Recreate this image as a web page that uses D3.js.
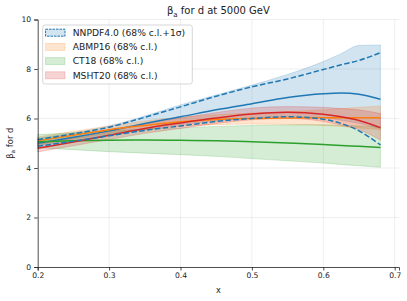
<!DOCTYPE html>
<html><head><meta charset="utf-8">
<script src="https://cdn.jsdelivr.net/npm/d3@7"></script>
<style>
body{margin:0;background:#fff;}
svg{display:block;font-family:"DejaVu Sans",sans-serif;}
</style></head>
<body>
<svg id="c" width="407" height="301"></svg>
<script>
const xs = [0.2, 0.25, 0.3, 0.35, 0.4, 0.45, 0.5, 0.55, 0.6, 0.625, 0.65, 0.68];

const nnpdfCentral = [5.0, 5.24, 5.5, 5.8, 6.07, 6.35, 6.6, 6.85, 7.0, 7.03, 6.98, 6.78];
const nnpdfPlus1s  = [5.15, 5.38, 5.65, 6.05, 6.47, 6.9, 7.28, 7.6, 7.98, 8.17, 8.35, 8.66];
const nnpdfMinus1s = [4.88, 5.08, 5.3, 5.52, 5.7, 5.88, 6.0, 6.07, 5.97, 5.8, 5.5, 4.93];
const nnpdfUpper   = [5.2, 5.42, 5.7, 6.1, 6.55, 6.95, 7.35, 7.78, 8.3, 8.62, 8.95, 8.97];
const nnpdfLower   = [4.9, 5.1, 5.33, 5.55, 5.75, 5.92, 6.02, 6.08, 6.03, 5.93, 5.8, 5.6];

const abmpCentral = [5.1, 5.32, 5.55, 5.72, 5.87, 5.96, 6.0, 6.02, 6.03, 6.03, 6.03, 6.03];
const abmpUpper   = [5.25, 5.48, 5.7, 5.9, 6.05, 6.15, 6.22, 6.28, 6.35, 6.4, 6.45, 6.5];
const abmpLower   = [4.95, 5.17, 5.4, 5.55, 5.68, 5.75, 5.78, 5.76, 5.72, 5.68, 5.62, 5.55];

const ct18Central = [5.06, 5.1, 5.12, 5.13, 5.12, 5.1, 5.06, 5.01, 4.95, 4.91, 4.88, 4.83];
const ct18Upper   = [5.35, 5.42, 5.5, 5.57, 5.62, 5.68, 5.72, 5.74, 5.75, 5.73, 5.7, 5.65];
const ct18Lower   = [4.82, 4.74, 4.66, 4.6, 4.54, 4.47, 4.38, 4.29, 4.2, 4.14, 4.09, 4.03];

const mshtCentral = [4.8, 5.05, 5.32, 5.6, 5.82, 6.02, 6.18, 6.25, 6.17, 6.07, 5.92, 5.63];
const mshtUpper   = [4.95, 5.22, 5.5, 5.78, 6.02, 6.24, 6.42, 6.48, 6.45, 6.4, 6.35, 6.2];
const mshtLower   = [4.65, 4.9, 5.15, 5.4, 5.6, 5.8, 5.95, 6.0, 5.88, 5.73, 5.55, 5.13];

const xTicks = [0.2, 0.3, 0.4, 0.5, 0.6, 0.7];
const yTicks = [0, 2, 4, 6, 8, 10];
const legendLabels = ["NNPDF4.0 (68% c.l.+1σ)", "ABMP16 (68% c.l.)", "CT18 (68% c.l.)", "MSHT20 (68% c.l.)"];
const colors = ["#1f77b4", "#ff7f0e", "#2ca02c", "#d62728"];

const svg = d3.select("#c");
const L = 37.7, R = 399, T = 19.5, B = 267;
const x = d3.scaleLinear().domain([0.2, 0.706]).range([L, R]);
const y = d3.scaleLinear().domain([0, 10]).range([B, T]);

// grid
const g = svg.append("g");
g.selectAll(".vg").data(xTicks.slice(1)).enter().append("line")
  .attr("x1", d => x(d)).attr("x2", d => x(d)).attr("y1", T).attr("y2", B)
  .attr("stroke", "#b0b0b0").attr("stroke-opacity", 0.25).attr("stroke-width", 0.8);
g.selectAll(".hg").data(yTicks.slice(1)).enter().append("line")
  .attr("y1", d => y(d)).attr("y2", d => y(d)).attr("x1", L).attr("x2", R)
  .attr("stroke", "#b0b0b0").attr("stroke-opacity", 0.25).attr("stroke-width", 0.8);

const curve = d3.curveMonotoneX;
const area = (up, lo) => d3.area().x((d, i) => x(xs[i])).y0((d, i) => y(lo[i])).y1((d, i) => y(up[i])).curve(curve)(xs);
const line = v => d3.line().x((d, i) => x(xs[i])).y((d, i) => y(v[i])).curve(curve)(xs);

const bands = [[nnpdfUpper, nnpdfLower], [abmpUpper, abmpLower], [ct18Upper, ct18Lower], [mshtUpper, mshtLower]];
bands.forEach((b, k) => {
  svg.append("path").attr("d", area(b[0], b[1]))
    .attr("fill", colors[k]).attr("fill-opacity", 0.2)
    .attr("stroke", colors[k]).attr("stroke-opacity", 0.2).attr("stroke-width", 1);
});

const centrals = [nnpdfCentral, abmpCentral, ct18Central, mshtCentral];
centrals.forEach((c, k) => {
  svg.append("path").attr("d", line(c)).attr("fill", "none")
    .attr("stroke", colors[k]).attr("stroke-width", 1.5);
});
[nnpdfPlus1s, nnpdfMinus1s].forEach(c => {
  svg.append("path").attr("d", line(c)).attr("fill", "none")
    .attr("stroke", colors[0]).attr("stroke-width", 1.5).attr("stroke-dasharray", "5.5,2.4");
});

// axes
const xAxis = d3.axisBottom(x).tickValues(xTicks).tickFormat(d3.format(".1f")).tickSizeOuter(0).tickSize(3.5).tickPadding(2.5);
const yAxis = d3.axisLeft(y).tickValues(yTicks).tickFormat(d3.format("d")).tickSizeOuter(0).tickSize(3.5).tickPadding(3);
const gx = svg.append("g").attr("transform", `translate(0,${B})`).call(xAxis);
const gy = svg.append("g").attr("transform", `translate(${L},0)`).call(yAxis);
[gx, gy].forEach(a => {
  a.select(".domain").attr("stroke", "#222").attr("stroke-width", 0.8);
  a.selectAll(".tick line").attr("stroke", "#222").attr("stroke-width", 0.8);
  a.selectAll(".tick text").attr("font-size", 7.6).attr("fill", "#222").attr("font-family", "DejaVu Sans");
});

// title
const title = svg.append("text").attr("x", (L + R) / 2).attr("y", 14).attr("text-anchor", "middle")
  .attr("font-size", 10).attr("fill", "#222");
title.append("tspan").text("β");
title.append("tspan").text("a").attr("font-size", 7).attr("dy", 2.5);
title.append("tspan").text(" for d at 5000 GeV").attr("dy", -2.5);

// axis labels
svg.append("text").attr("x", (L + R) / 2).attr("y", 293).attr("text-anchor", "middle")
  .attr("font-size", 8.2).attr("fill", "#222").text("x");
const yl = svg.append("text").attr("transform", `translate(13.3,${(T + B) / 2}) rotate(-90)`)
  .attr("text-anchor", "middle").attr("font-size", 8.4).attr("fill", "#222");
yl.append("tspan").text("β");
yl.append("tspan").text("a").attr("font-size", 5.9).attr("dy", 2);
yl.append("tspan").text(" for d").attr("dy", -2);

// legend
const lg = svg.append("g");
lg.append("rect").attr("x", 42.7).attr("y", 25).attr("width", 149.6).attr("height", 59)
  .attr("rx", 2.5).attr("fill", "#fff").attr("fill-opacity", 0.8).attr("stroke", "#ccc").attr("stroke-width", 0.8);
legendLabels.forEach((lab, k) => {
  const cy = 32.7 + k * 14.2;
  const r = lg.append("rect").attr("x", 45.5).attr("y", cy - 3.5).attr("width", 19.5).attr("height", 7)
    .attr("fill", colors[k]).attr("fill-opacity", 0.2)
    .attr("stroke", colors[k]).attr("stroke-opacity", k === 0 ? 1 : 0.2).attr("stroke-width", 1);
  if (k === 0) r.attr("stroke-dasharray", "2.5,1");
  lg.append("text").attr("x", 72.7).attr("y", cy + 3.2).attr("font-size", 9.2).attr("fill", "#222").text(lab);
});
</script>
</body></html>
